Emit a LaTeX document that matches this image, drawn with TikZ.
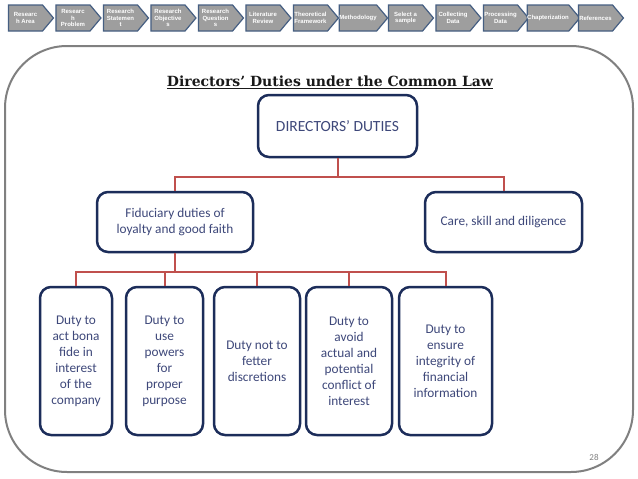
\documentclass[tikz,border=0pt]{standalone}
\usepackage{fontspec}
\setmainfont{Carlito}
\newfontfamily\titlefont{DejaVu Serif}
\newfontfamily\chevfont{Liberation Sans}
\usetikzlibrary{shapes.symbols}
\definecolor{framegray}{RGB}{128,128,128}
\definecolor{boxnavy}{RGB}{28,45,90}
\definecolor{textblue}{RGB}{62,72,122}
\definecolor{linered}{RGB}{192,80,77}
\definecolor{chevfill}{RGB}{158,158,158}
\definecolor{chevedge}{RGB}{70,95,130}
\begin{document}
\begin{tikzpicture}[x=1pt,y=-1pt,
  chev/.style={signal, signal to=east, signal from=nowhere, signal pointer angle=100,
    draw=chevedge, line width=1.2pt, fill=chevfill, minimum width=45pt, minimum height=26pt,
    inner sep=0pt, text=white, font=\chevfont\bfseries\fontsize{6}{6.8}\selectfont, align=center},
  duty/.style={draw=boxnavy, line width=2.5pt, rounded corners=11pt, fill=white,
    text=textblue, align=center, inner sep=0pt, font=\fontsize{13.3}{16}\selectfont},
  conn/.style={draw=linered, line width=2pt}
]
\useasboundingbox (0,0) rectangle (638,479);
\fill[white] (0,0) rectangle (638,479);

% progress chevrons
\foreach \i/\t in {1/{Researc\\h Area},2/{Researc\\h\\Problem},3/{Research\\Statemen\\t},
  4/{Research\\Objective\\s},5/{Research\\Question\\s},6/{Literature\\Review},
  7/{Theoretical\\Framework},8/{Methodology},9/{Select a\\sample},10/{Collecting\\Data},
  11/{Processing\\Data},12/{Chapterization},13/{References}}
  \node[chev] (c\i) at ({25.5+47.5*(\i-1)},18) {\t};

% frame
\draw[framegray, line width=2pt, rounded corners=62pt] (5,46) rectangle (633,472);

% title
\node[text=black!90, inner sep=0pt] (title) at (330,82)
  {\titlefont\bfseries\fontsize{14}{16}\selectfont\underline{Directors’ Duties under the Common Law}};

% boxes
\node[duty, minimum width=159pt, minimum height=62pt, font=\fontsize{15.5}{18}\selectfont] (top) at (337.5,126) {DIRECTORS’ DUTIES};
\node[duty, minimum width=156pt, minimum height=60pt] (fid) at (175,222) {Fiduciary duties of\\loyalty and good faith};
\node[duty, minimum width=157pt, minimum height=60pt] (care) at (503.5,222) {Care, skill and diligence};

\node[duty, minimum width=72pt, minimum height=148pt] (b1) at (76,361) {Duty to\\act bona\\fide in\\interest\\of the\\company};
\node[duty, minimum width=77pt, minimum height=148pt] (b2) at (164.5,361) {Duty to\\use\\powers\\for\\proper\\purpose};
\node[duty, minimum width=86pt, minimum height=148pt] (b3) at (257,361) {Duty not to\\fetter\\discretions};
\node[duty, minimum width=86pt, minimum height=148pt] (b4) at (349,361) {Duty to\\avoid\\actual and\\potential\\conflict of\\interest};
\node[duty, minimum width=93pt, minimum height=148pt] (b5) at (445.5,361) {Duty to\\ensure\\integrity of\\financial\\information};

% connectors
\coordinate (j1) at (337.5,177);
\draw[conn] (top.south) -- (j1) -| (fid.north);
\draw[conn] (j1) -| (care.north);
\coordinate (j2) at (175,272);
\draw[conn] (fid.south) -- (j2);
\foreach \b in {b1,b2,b3,b4,b5}
  \draw[conn] (j2) -| (\b.north);

% page number
\node[text=framegray, font=\fontsize{9}{10}\selectfont, inner sep=0pt] (pg) at (594,457) {28};
\end{tikzpicture}
\end{document}
